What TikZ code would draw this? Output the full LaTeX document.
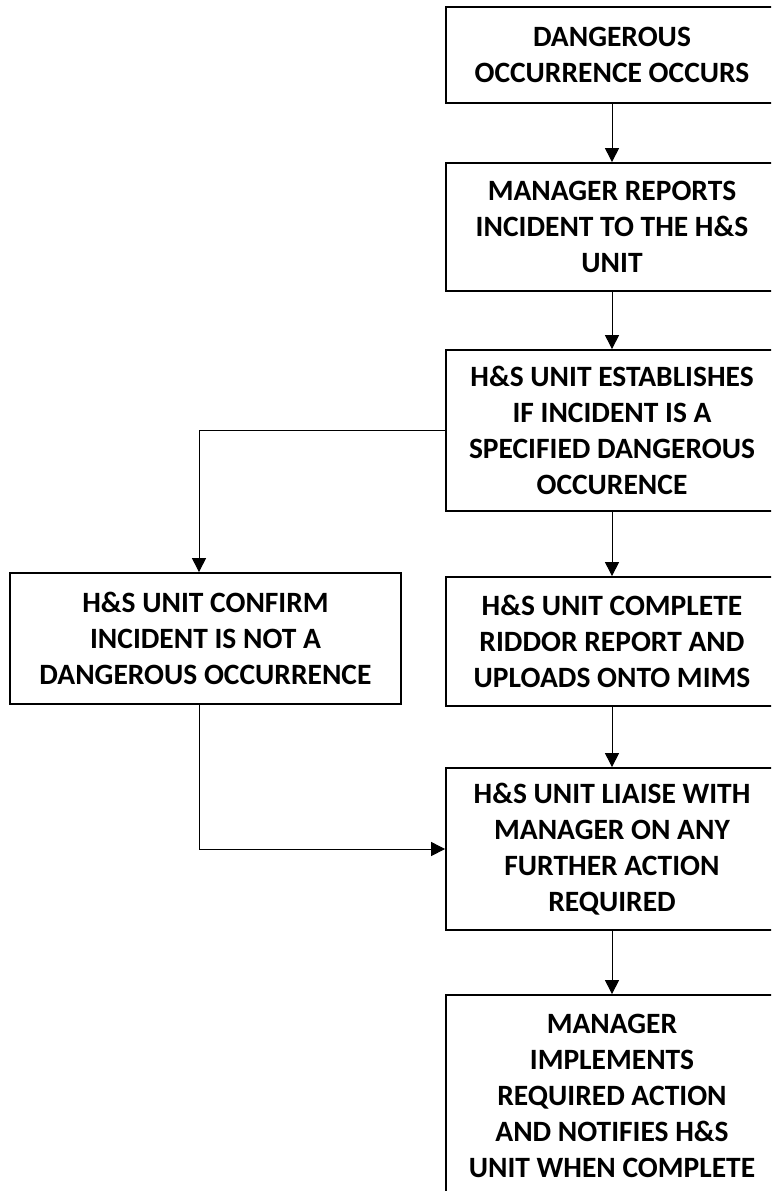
\documentclass[tikz,border=0pt]{standalone}
\usepackage{fontspec}
\setmainfont{Carlito}
\usetikzlibrary{arrows.meta}

\begin{document}
\begin{tikzpicture}[x=1pt, y=1pt,
	every node/.style={font=\fontsize{29.5}{36}\selectfont\bfseries, align=center},
	box/.style={draw, line width=1.8pt, minimum width=332pt, inner sep=0pt},
	link/.style={line width=1pt, -{Triangle[length=14pt,width=14pt]}}]
	\clip (0,0) rectangle (771,-1191);
	\fill[white] (0,0) rectangle (771,-1191);
	\node[box, minimum height=96pt] (occurs) at (612,-55) {DANGEROUS\\OCCURRENCE OCCURS};
	\node[box, minimum height=128pt] (reports) at (612,-227) {MANAGER REPORTS\\INCIDENT TO THE H\&S\\UNIT};
	\node[box, minimum height=161pt] (establishes) at (612,-430.5) {H\&S UNIT ESTABLISHES\\IF INCIDENT IS A\\SPECIFIED DANGEROUS\\OCCURENCE};
	\node[box, minimum width=391pt, minimum height=131pt] (notdanger) at (205.5,-638.5) {H\&S UNIT CONFIRM\\INCIDENT IS NOT A\\DANGEROUS OCCURRENCE};
	\node[box, minimum height=129pt] (riddor) at (612,-641.5) {H\&S UNIT COMPLETE\\RIDDOR REPORT AND\\UPLOADS ONTO MIMS};
	\node[box, minimum height=162pt] (liaise) at (612,-849) {H\&S UNIT LIAISE WITH\\MANAGER ON ANY\\FURTHER ACTION\\REQUIRED};
	\node[box, minimum height=202pt] (implements) at (612,-1096) {MANAGER\\IMPLEMENTS\\REQUIRED ACTION\\AND NOTIFIES H\&S\\UNIT WHEN COMPLETE};
	\draw[link] (occurs) -- (reports);
	\draw[link] (reports) -- (establishes);
	\draw[link] (establishes) -- (riddor);
	\draw[link] (riddor) -- (liaise);
	\draw[link] (liaise) -- (implements);
	\draw[link] (establishes.west) -| ([xshift=-6.5pt]notdanger.north);
	\draw[link] ([xshift=-6.5pt]notdanger.south) |- (liaise.west);
\end{tikzpicture}
\end{document}
